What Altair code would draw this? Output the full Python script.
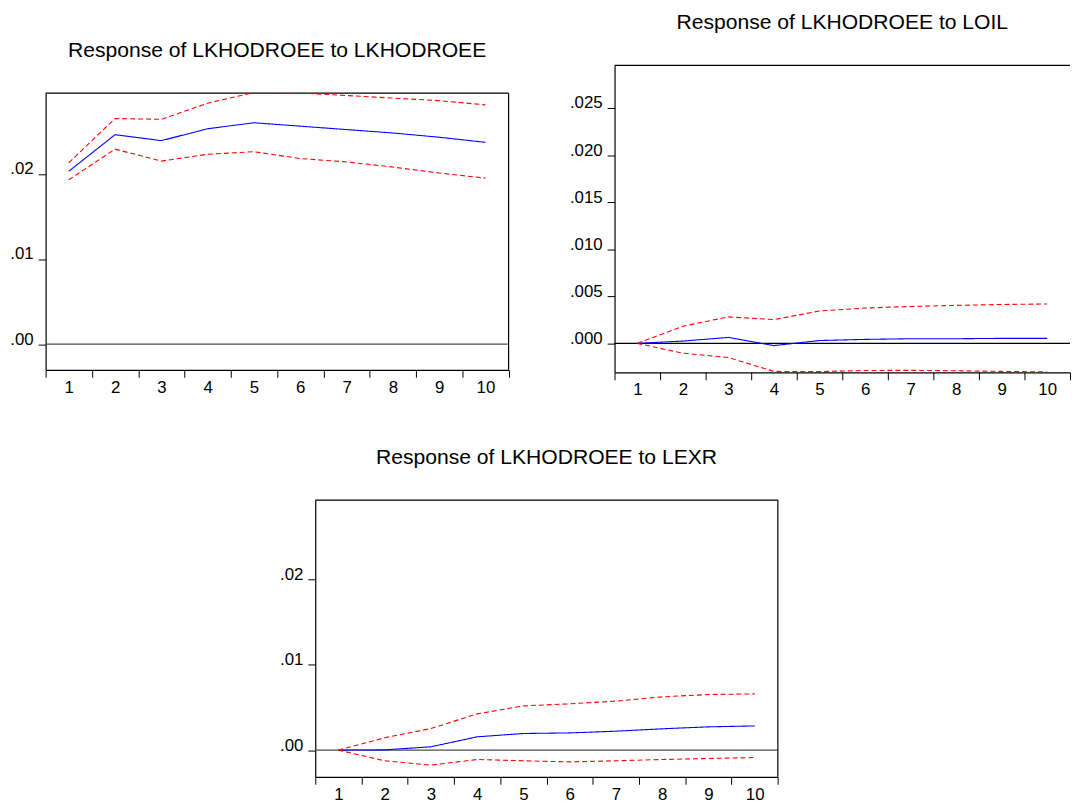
import altair as alt
import pandas as pd

FONT = "Liberation Sans"
BLUE = "#0000ff"
RED = "#ff0000"
TICK_FS = 17
TITLE_FS = 21.3

steps = [1, 2, 3, 4, 5, 6, 7, 8, 9, 10]
edges = [0.5, 1.5, 2.5, 3.5, 4.5, 5.5, 6.5, 7.5, 8.5, 9.5, 10.5]
series_names = ["Response", "Upper", "Lower"]

# Response of LKHODROEE to LKHODROEE
p1_title = "Response of LKHODROEE to LKHODROEE"
p1_resp = [0.0203, 0.0246, 0.0239, 0.0253, 0.0260, 0.0256, 0.0252, 0.0248, 0.0243, 0.0237]
p1_upper = [0.0213, 0.0265, 0.0264, 0.0283, 0.02955, 0.0295, 0.0292, 0.0289, 0.0286, 0.0281]
p1_lower = [0.0193, 0.0229, 0.0215, 0.0223, 0.0226, 0.0218, 0.0214, 0.0208, 0.0201, 0.0195]
p1_yticks = [0.0, 0.01, 0.02]
p1_ydomain = [-0.00302, 0.02948]

# Response of LKHODROEE to LOIL
p2_title = "Response of LKHODROEE to LOIL"
p2_resp = [0.0, 0.00024, 0.00063, -0.00024, 0.0003, 0.00042, 0.00049, 0.00049, 0.00053, 0.00053]
p2_upper = [0.0, 0.00182, 0.00281, 0.00252, 0.00344, 0.00375, 0.00392, 0.00403, 0.00413, 0.00418]
p2_lower = [0.0, -0.00105, -0.00151, -0.00298, -0.00300, -0.00288, -0.00287, -0.00291, -0.00298, -0.00304]
p2_yticks = [0.0, 0.005, 0.01, 0.015, 0.02, 0.025]
p2_ydomain = [-0.00308, 0.02952]

# Response of LKHODROEE to LEXR
p3_title = "Response of LKHODROEE to LEXR"
p3_resp = [0.0, 0.00003, 0.00039, 0.00156, 0.00195, 0.00202, 0.00222, 0.0025, 0.00273, 0.00284]
p3_upper = [0.0, 0.00145, 0.00253, 0.00425, 0.00519, 0.00543, 0.00575, 0.00625, 0.00652, 0.0066]
p3_lower = [0.0, -0.00125, -0.00176, -0.0011, -0.00125, -0.00138, -0.00125, -0.0011, -0.00098, -0.00087]
p3_yticks = [0.0, 0.01, 0.02]
p3_ydomain = [-0.00313, 0.02933]


def make_panel(title, resp, upper, lower, yticks, ydec, ydomain, w, h, zero_color,
               right_border=True, yrange=None, label_side=-1):
    df = pd.DataFrame({
        "step": steps * 3,
        "value": resp + upper + lower,
        "series": [series_names[0]] * 10 + [series_names[1]] * 10 + [series_names[2]] * 10,
    })
    xs = alt.Scale(domain=[edges[0], edges[-1]], nice=False, zero=False)
    if yrange is None:
        ys = alt.Scale(domain=ydomain, nice=False, zero=False)
    else:
        ys = alt.Scale(domain=ydomain, nice=False, zero=False, range=yrange)
    band = w / 10.0

    # tick marks sit on the period boundaries, labels are shifted to the period centres
    if label_side < 0:
        lab_expr = "datum.value < 1 ? '' : format(datum.value - 0.5, 'd')"
    else:
        lab_expr = "datum.value > 10 ? '' : format(datum.value + 0.5, 'd')"

    x_axis = alt.Axis(values=edges, grid=False, title=None,
                      labelExpr=lab_expr,
                      labelOffset=label_side * band / 2, labelAngle=0, labelPadding=2,
                      labelFlush=False, labelOverlap=False,
                      tickSize=7.5, tickColor="black", tickWidth=1,
                      domain=True, domainColor="black", domainWidth=1.2,
                      labelFontSize=TICK_FS, labelFont=FONT, labelColor="black")
    y_axis = alt.Axis(values=yticks, grid=False, title=None,
                      labelExpr="substring(format(datum.value, '.%df'), 1)" % ydec,
                      labelFlush=False, labelOverlap=False,
                      tickSize=7.5, tickColor="black", tickWidth=1,
                      domain=True, domainColor="black", domainWidth=1.2,
                      labelBaseline="alphabetic", labelPadding=5,
                      labelFontSize=TICK_FS, labelFont=FONT, labelColor="black")

    zero = alt.Chart(pd.DataFrame({"z": [0.0]})).mark_rule(
        color=zero_color, strokeWidth=1.1
    ).encode(y=alt.Y("z:Q", scale=ys, axis=y_axis))

    border_df = pd.DataFrame({"x0": [edges[0]], "x1": [edges[-1]],
                              "y0": [ydomain[0]], "y1": [ydomain[1]]})
    top = alt.Chart(border_df).mark_rule(color="black", strokeWidth=1.2).encode(
        x=alt.X("x0:Q", scale=xs, axis=x_axis), x2="x1:Q",
        y=alt.Y("y1:Q", scale=ys, axis=y_axis))

    lines = alt.Chart(df).mark_line(clip=True, strokeWidth=1.1).encode(
        x=alt.X("step:Q", scale=xs, axis=x_axis),
        y=alt.Y("value:Q", scale=ys, axis=y_axis),
        color=alt.Color("series:N", legend=None,
                        scale=alt.Scale(domain=series_names, range=[BLUE, RED, RED])),
        strokeDash=alt.StrokeDash("series:N", legend=None,
                                  scale=alt.Scale(domain=series_names,
                                                  range=[[1, 0], [5, 3], [5, 3]])),
    )
    layers = [zero, top]
    if right_border:
        right = alt.Chart(border_df).mark_rule(color="black", strokeWidth=1.2).encode(
            x=alt.X("x1:Q", scale=xs, axis=x_axis),
            y=alt.Y("y0:Q", scale=ys, axis=y_axis), y2="y1:Q")
        layers.append(right)
    layers.append(lines)

    return alt.layer(*layers).properties(
        width=w, height=h,
        title=alt.TitleParams(text=title, fontSize=TITLE_FS, font=FONT, fontWeight="normal",
                              color="black", anchor="middle", offset=31.5),
    )


p1 = make_panel(p1_title, p1_resp, p1_upper, p1_lower, p1_yticks, 2,
                p1_ydomain, 467.6, 279.5, "#4d4d4d")
p2 = make_panel(p2_title, p2_resp, p2_upper, p2_lower, p2_yticks, 3,
                p2_ydomain, 460, 282, "black", right_border=False, yrange=[282, -28])
p3 = make_panel(p3_title, p3_resp, p3_upper, p3_lower, p3_yticks, 2,
                p3_ydomain, 467.2, 279.5, "#4d4d4d", label_side=1)

top_row = alt.hconcat(p1, p2, spacing=59.6)

chart = alt.concat(top_row, p3, columns=1, spacing={"row": 47, "column": 0},
                   center=True).properties(
    padding={"left": 1.6, "top": 0, "right": 0, "bottom": 0},
    background="white",
).configure_view(stroke="transparent", strokeWidth=0)

chart.save("out.html", embed_options={"renderer": "svg", "actions": False})
